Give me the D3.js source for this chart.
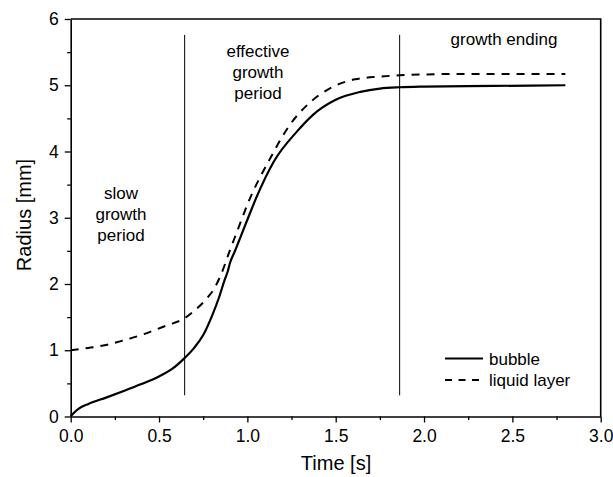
<!DOCTYPE html>
<html>
<head>
<meta charset="utf-8">
<script src="https://cdn.jsdelivr.net/npm/d3@7"></script>
<style>
  body { margin: 0; background: #fff; }
  text { font-family: "Liberation Sans", Arial, sans-serif; fill: #000; }
</style>
</head>
<body>
<div id="chart"></div>
<script>
// time [s] and radius [mm]
var bubbleT = [0, 0.02, 0.05, 0.1, 0.2, 0.3, 0.4, 0.5, 0.57, 0.64, 0.7, 0.75, 0.8, 0.84, 0.87, 0.89, 0.902, 0.93, 0.96, 1.0, 1.05, 1.15, 1.28, 1.37, 1.5, 1.64, 1.75, 1.86, 2.0, 2.4, 2.8];
var bubbleR = [0, 0.06, 0.125, 0.19, 0.285, 0.385, 0.49, 0.605, 0.71, 0.87, 1.04, 1.23, 1.52, 1.8, 2.05, 2.2, 2.32, 2.5, 2.7, 2.97, 3.3, 3.85, 4.3, 4.55, 4.78, 4.9, 4.95, 4.97, 4.98, 4.99, 5.0];

var liquidT = [0, 0.1, 0.2, 0.3, 0.4, 0.49, 0.55, 0.64, 0.71, 0.77, 0.81, 0.855, 0.9, 0.95, 1.0, 1.13, 1.24, 1.35, 1.48, 1.61, 1.75, 1.86, 2.2, 2.8];
var liquidR = [1.0, 1.035, 1.08, 1.15, 1.23, 1.32, 1.38, 1.475, 1.62, 1.78, 1.92, 2.17, 2.5, 2.85, 3.2, 3.9, 4.4, 4.73, 4.97, 5.09, 5.13, 5.15, 5.17, 5.17];

// period boundaries
var dividerT = [0.645, 1.862];
var dividerR = [0.32, 5.76];

var xTicks = [0, 0.5, 1.0, 1.5, 2.0, 2.5, 3.0];
var yTicks = [0, 1, 2, 3, 4, 5, 6];

var margin = {top: 19, left: 70.7},
    width = 530, height = 397.5;

var svg = d3.select("#chart")
  .append("svg")
  .attr("width", 613).attr("height", 477);

var g = svg.append("g")
  .attr("transform", "translate(" + margin.left + "," + margin.top + ")");

var x = d3.scaleLinear().domain([0, 3]).range([0, width]);
var y = d3.scaleLinear().domain([0, 6]).range([height, 0]);

//minor ticks
g.append("g")
  .attr("transform", "translate(0," + height + ")")
  .call(d3.axisBottom(x).tickValues(d3.range(0.25, 3, 0.5)).tickSize(3.5).tickFormat(""))
  .call(function(a) { a.select(".domain").remove(); });
g.append("g")
  .call(d3.axisLeft(y).tickValues(d3.range(0.5, 6, 1)).tickSize(3.5).tickFormat(""))
  .call(function(a) { a.select(".domain").remove(); });

//major axes
var xAxis = g.append("g")
  .attr("transform", "translate(0," + height + ")")
  .call(d3.axisBottom(x).tickValues(xTicks).tickSize(6).tickSizeOuter(0).tickPadding(7).tickFormat(d3.format(".1f")));
xAxis.selectAll("text").style("font-size", "17.5px");

var yAxis = g.append("g")
  .call(d3.axisLeft(y).tickValues(yTicks).tickSize(6).tickSizeOuter(0).tickPadding(6).tickFormat(d3.format("d")));
yAxis.selectAll("text").style("font-size", "17.5px");

g.selectAll(".domain").attr("stroke-width", 1.6);
g.selectAll(".tick line").attr("stroke-width", 1.3);

//frame top + right
g.append("path")
  .attr("d", "M0,0H" + width + "V" + height)
  .attr("fill", "none").attr("stroke", "#000").attr("stroke-width", 1.6);

//dividers
dividerT.forEach(function(t) {
  g.append("line")
    .attr("x1", x(t)).attr("x2", x(t))
    .attr("y1", y(dividerR[0])).attr("y2", y(dividerR[1]))
    .attr("stroke", "#000").attr("stroke-width", 1);
});

var line = d3.line()
  .x(function(d) { return x(d[0]); })
  .y(function(d) { return y(d[1]); })
  .curve(d3.curveMonotoneX);

g.append("path")
  .datum(d3.zip(liquidT, liquidR))
  .attr("d", line)
  .attr("fill", "none").attr("stroke", "#000")
  .attr("stroke-width", 2).attr("stroke-dasharray", "8,7");

g.append("path")
  .datum(d3.zip(bubbleT, bubbleR))
  .attr("d", line)
  .attr("fill", "none").attr("stroke", "#000")
  .attr("stroke-width", 2.2);

//annotations
function label(cx, y0, lines) {
  lines.forEach(function(s, i) {
    svg.append("text")
      .attr("x", cx).attr("y", y0 + i * 21)
      .attr("text-anchor", "middle")
      .style("font-size", "17px")
      .text(s);
  });
}
label(121, 199, ["slow", "growth", "period"]);
label(258, 57, ["effective", "growth", "period"]);
label(504, 45, ["growth ending"]);

//legend
svg.append("line")
  .attr("x1", 445).attr("x2", 483).attr("y1", 358.5).attr("y2", 358.5)
  .attr("stroke", "#000").attr("stroke-width", 2.2);
svg.append("line")
  .attr("x1", 445).attr("x2", 483).attr("y1", 380).attr("y2", 380)
  .attr("stroke", "#000").attr("stroke-width", 2).attr("stroke-dasharray", "7,6.5");
svg.append("text").attr("x", 489).attr("y", 364.5).style("font-size", "17px").text("bubble");
svg.append("text").attr("x", 489).attr("y", 386).style("font-size", "17px").text("liquid layer");

//axis titles
svg.append("text")
  .attr("x", 336).attr("y", 470)
  .attr("text-anchor", "middle")
  .style("font-size", "20px")
  .text("Time [s]");
svg.append("text")
  .attr("transform", "translate(31,215) rotate(-90)")
  .attr("text-anchor", "middle")
  .style("font-size", "20px")
  .text("Radius [mm]");
</script>
</body>
</html>
